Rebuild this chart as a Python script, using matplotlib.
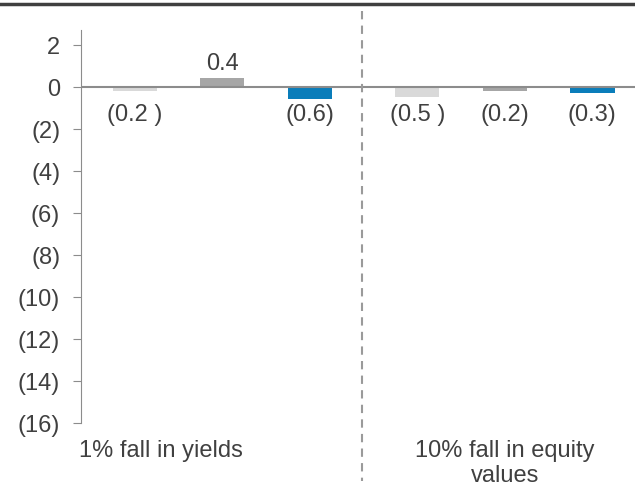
import matplotlib.pyplot as plt
from matplotlib.lines import Line2D

plt.rcParams["font.family"] = ["Liberation Sans", "DejaVu Sans"]

# ── Data ──────────────────────────────────────────────────────────────────────
scenarios = ["1% fall in yields", "10% fall in equity\nvalues"]
series_a = [-0.2, -0.5]   # light grey
series_b = [0.4, -0.2]    # mid grey
series_c = [-0.6, -0.3]   # blue
labels_a = ["(0.2 )", "(0.5 )"]
labels_b = ["0.4", "(0.2)"]
labels_c = ["(0.6)", "(0.3)"]
yticks = [2, 0, -2, -4, -6, -8, -10, -12, -14, -16]
ytick_labels = ["2", "0", "(2)", "(4)", "(6)", "(8)", "(10)", "(12)", "(14)", "(16)"]

colors = ["#d9d9d9", "#a6a6a6", "#0a7dba"]
text_color = "#404040"
axis_color = "#8c8c8c"
fs = 17

fig = plt.figure(figsize=(6.35, 4.89), dpi=100)
ax = fig.add_axes([0.1276, 0.133, 0.8724, 0.8036])

centres = [0.51, 1.53]
offset = 0.316
width = 0.16
series = [series_a, series_b, series_c]
labels = [labels_a, labels_b, labels_c]

for i, (vals, labs) in enumerate(zip(series, labels)):
    xs = [c + (i - 1) * offset for c in centres]
    ax.bar(xs, vals, width=width, color=colors[i], zorder=2)
    for x, v, lab in zip(xs, vals, labs):
        y = v + 0.72 if v > 0 else -1.3
        ax.text(x, y, lab, ha="center", va="center", fontsize=fs,
                color=text_color)

ax.axhline(0, color=axis_color, lw=1.5, zorder=3)

ax.set_xlim(0, 2)
ax.set_ylim(-16, 2.7)
ax.set_yticks(yticks)
ax.set_yticklabels(ytick_labels, fontsize=fs, color=text_color)
ax.tick_params(axis="y", length=6, color=axis_color, pad=9)
ax.set_xticks([])

for side in ["top", "right", "bottom"]:
    ax.spines[side].set_visible(False)
ax.spines["left"].set_color(axis_color)
ax.spines["left"].set_bounds(-16, 2.7)

# category captions under the plot area
ax.text(0.144, -0.042, scenarios[0], transform=ax.transAxes, ha="center",
        va="top", fontsize=fs, color=text_color)
ax.text(0.765, -0.042, scenarios[1], transform=ax.transAxes, ha="center",
        va="top", fontsize=fs, color=text_color, linespacing=1.15)

# dashed divider between the two scenarios and rule along the top
fig.add_artist(Line2D([362 / 635, 362 / 635], [1 - 12 / 489, 1 - 482 / 489],
                      color="#9a9a9a", lw=1.5, ls=(0, (4, 3))))
fig.add_artist(Line2D([0, 1], [1 - 5 / 489, 1 - 5 / 489],
                      color="#404040", lw=2.5))

fig.savefig("out.png", dpi=100)
